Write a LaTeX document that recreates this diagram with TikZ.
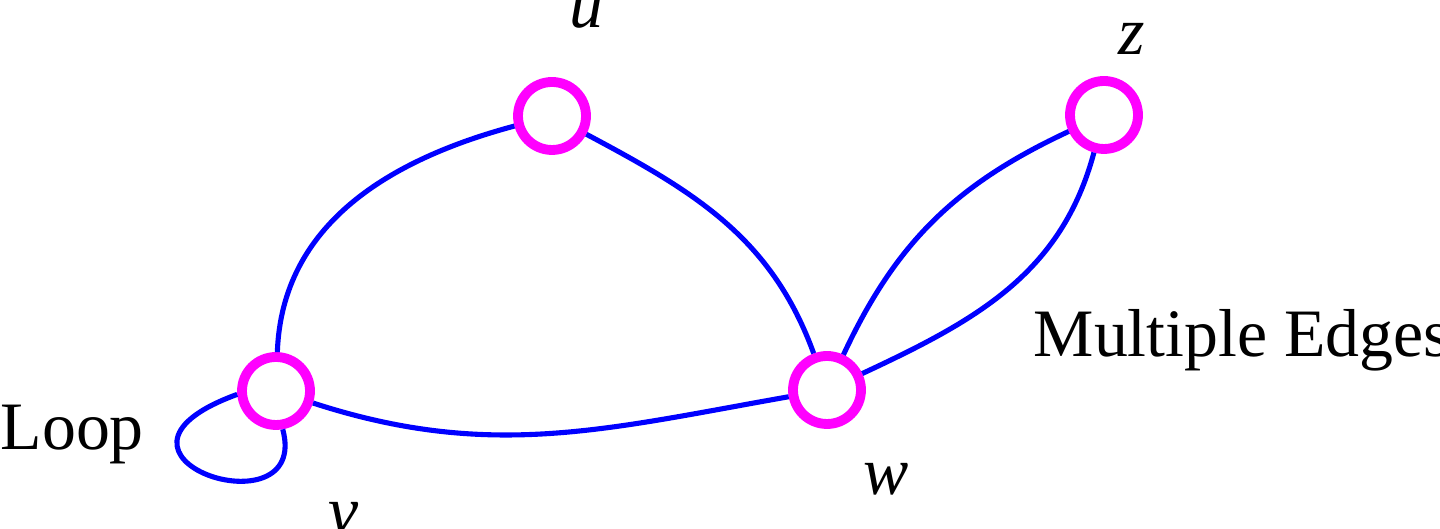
\documentclass[tikz,border=0pt]{standalone}
\usepackage{fontspec}
\setmainfont{Liberation Serif}
\definecolor{ringmag}{RGB}{255,0,255}
\definecolor{edgeblue}{RGB}{0,0,255}
\tikzset{
	vertex/.style={circle,draw=ringmag,line width=2.8pt,minimum size=0.68cm,inner sep=0pt,fill=white},
	link/.style={edgeblue,line width=1.45pt},
	lab/.style={font=\fontsize{19.3}{23}\selectfont,inner sep=0pt}
}
\begin{document}
\begin{tikzpicture}
	\useasboundingbox (0,0) rectangle (14.4,5.29);
	\clip (0,0) rectangle (14.4,5.29);
	\node[vertex] (u) at (5.52,4.13) {};
	\node[vertex] (z) at (11.04,4.14) {};
	\node[vertex] (v) at (2.76,1.38) {};
	\node[vertex] (w) at (8.27,1.39) {};
	\draw[link] (v) to[out=88,in=195] (u);
	\draw[link] (u) to[out=-28,in=110] (w);
	\draw[link] (v) to[out=-18,in=190] (w);
	\draw[link] (w) to[out=65,in=205] (z);
	\draw[link] (w) to[out=25,in=-105] (z);
	\draw[link] (v.185) .. controls +(200:1.8) and +(-75:1.1) .. (v.-80);
	\node[lab,anchor=base] (ulab) at (5.86,5.01) {\textit{u}};
	\node[lab,anchor=base] (zlab) at (11.32,4.74) {\textit{z}};
	\node[lab,anchor=base] (vlab) at (3.44,-0.05) {\textit{v}};
	\node[lab,anchor=base] (wlab) at (8.86,0.34) {\textit{w}};
	\node[lab,anchor=base west] (multi) at (10.33,1.72) {Multiple Edges};
	\node[lab,anchor=base west] (loop) at (0,0.79) {Loop};
\end{tikzpicture}
\end{document}
